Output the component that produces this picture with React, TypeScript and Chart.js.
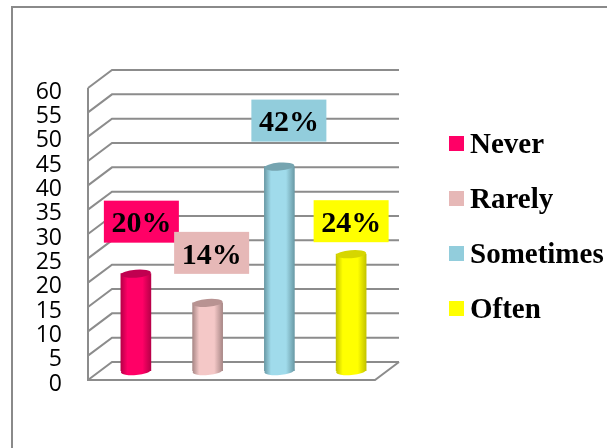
import React, { useEffect, useRef } from "react";
import { Chart, registerables } from "chart.js";

Chart.register(...registerables);

const categories = ["Never", "Rarely", "Sometimes", "Often"];
const responseShares = [20, 14, 42, 24];
const barColors = ["#FF0066", "#E6B8B7", "#92CDDC", "#FFFF00"];
const rimColors = ["#C00050", "#B89392", "#75A4B0", "#D6D600"];
const sideColors = ["#B80048", "#A98887", "#6A9AA6", "#C4C400"];
const coreColors = ["#FF0066", "#F4C8C7", "#A0DBEB", "#FFFF00"];
const labelShifts = [[5.5, -52], [4, -50], [9.5, -46], [0, -33]];

const DEPTH_X = 24;
const DEPTH_Y = -18;
const LINE_COLOR = "#8C8C8C";
const SERIF = '"Liberation Serif", serif';
const TICK_DROP = 4;

function strokePath(ctx: CanvasRenderingContext2D, pts: number[][]) {
  ctx.beginPath();
  pts.forEach(([x, y], i) => (i ? ctx.lineTo(x, y) : ctx.moveTo(x, y)));
  ctx.stroke();
}

// Elliptical cap of a cylinder, tipped slightly upward to the right.
function cap(ctx: CanvasRenderingContext2D, x: number, y: number, rx: number, fill: string | CanvasGradient) {
  ctx.beginPath();
  ctx.ellipse(x, y, rx, 4, -0.08, 0, Math.PI * 2);
  ctx.fillStyle = fill;
  ctx.fill();
}

function sideGradient(ctx: CanvasRenderingContext2D, left: number, width: number, i: number) {
  const g = ctx.createLinearGradient(left, 0, left + width, 0);
  g.addColorStop(0, sideColors[i]);
  g.addColorStop(0.22, coreColors[i]);
  g.addColorStop(0.72, coreColors[i]);
  g.addColorStop(1, sideColors[i]);
  return g;
}

const scene = {
  id: "scene",
  // The axis labels are the only thing drawn in this phase; they sit a little below their lines.
  beforeDraw(chart: any) {
    chart.ctx.save();
    chart.ctx.translate(0, TICK_DROP);
  },
  beforeDatasetsDraw(chart: any) {
    const { ctx, chartArea: a, scales } = chart;
    ctx.restore();
    const y = scales.y;
    ctx.save();

    // Outer frame: only the top and left edges show
    ctx.strokeStyle = "#8A8A8A";
    ctx.lineWidth = 2;
    strokePath(ctx, [[12, chart.height], [12, 7], [chart.width, 7]]);

    // Walls and floor of the box
    ctx.strokeStyle = LINE_COLOR;
    y.ticks.forEach((t: any) => {
      const py = y.getPixelForValue(t.value);
      strokePath(ctx, [[a.left, py], [a.left + DEPTH_X, py + DEPTH_Y], [a.right + DEPTH_X, py + DEPTH_Y]]);
    });
    strokePath(ctx, [[a.left, a.top], [a.left, a.bottom], [a.right, a.bottom], [a.right + DEPTH_X, a.bottom + DEPTH_Y]]);
    ctx.restore();

    // Cylinder bases sit half way into the box
    const bars = chart.getDatasetMeta(0).data;
    bars.forEach((b: any, i: number) => {
      const cx = b.x + DEPTH_X / 2;
      cap(ctx, cx, b.base + DEPTH_Y / 2, b.width / 2, sideGradient(ctx, cx - b.width / 2, b.width, i));
    });

    ctx.save();
    ctx.translate(DEPTH_X / 2, DEPTH_Y / 2);
  },
  afterDatasetsDraw(chart: any) {
    const { ctx } = chart;
    ctx.restore();

    const bars = chart.getDatasetMeta(0).data;
    bars.forEach((b: any, i: number) => {
      cap(ctx, b.x + DEPTH_X / 2, b.y + DEPTH_Y / 2, b.width / 2, rimColors[i]);
    });

    ctx.save();
    ctx.textBaseline = "middle";
    ctx.textAlign = "center";
    ctx.font = `bold 30px ${SERIF}`;
    bars.forEach((b: any, i: number) => {
      const lx = b.x + DEPTH_X / 2 + labelShifts[i][0];
      const ly = b.y + DEPTH_Y / 2 + labelShifts[i][1];
      ctx.fillStyle = barColors[i];
      ctx.fillRect(lx - 37.5, ly - 21, 75, 42);
      ctx.fillStyle = "#000";
      ctx.fillText(`${responseShares[i]}%`, lx, ly + 3);
    });

    // Legend column
    ctx.textAlign = "left";
    ctx.font = `bold 29px ${SERIF}`;
    categories.forEach((name, i) => {
      const ry = 143.5 + i * 55;
      ctx.fillStyle = barColors[i];
      ctx.fillRect(449, ry - 7.5, 15, 15);
      ctx.fillStyle = "#000";
      ctx.fillText(name, 470, ry + 2);
    });
    ctx.restore();
  },
};

export default function App() {
  const ref = useRef<HTMLCanvasElement>(null);

  useEffect(() => {
    document.body.style.margin = "0";
    const chart = new Chart(ref.current!, {
      type: "bar",
      data: {
        labels: categories,
        datasets: [
          {
            data: responseShares,
            barThickness: 30,
            borderWidth: 0,
            backgroundColor: (c: any) => {
              const i = c.dataIndex ?? 0;
              const center = c.chart.scales?.x?.getPixelForValue(i);
              if (!Number.isFinite(center)) return barColors[i];
              return sideGradient(c.chart.ctx, center - 15, 30, i);
            },
          },
        ],
      },
      options: {
        responsive: false,
        animation: false,
        layout: { padding: { top: 88, right: 232, bottom: 68, left: 0 } },
        plugins: { legend: { display: false }, tooltip: { enabled: false } },
        scales: {
          x: { display: false },
          y: {
            min: 0,
            max: 60,
            afterFit: (s: any) => {
              s.width = 88;
            },
            grid: { display: false, drawTicks: false },
            border: { display: false },
            ticks: {
              stepSize: 5,
              autoSkip: false,
              padding: 26,
              color: "#000",
              font: { family: '"Open Sans", sans-serif', size: 23 },
            },
          },
        },
      },
      plugins: [scene],
    });
    return () => chart.destroy();
  }, []);

  return <canvas ref={ref} width={607} height={448} style={{ display: "block" }} />;
}
